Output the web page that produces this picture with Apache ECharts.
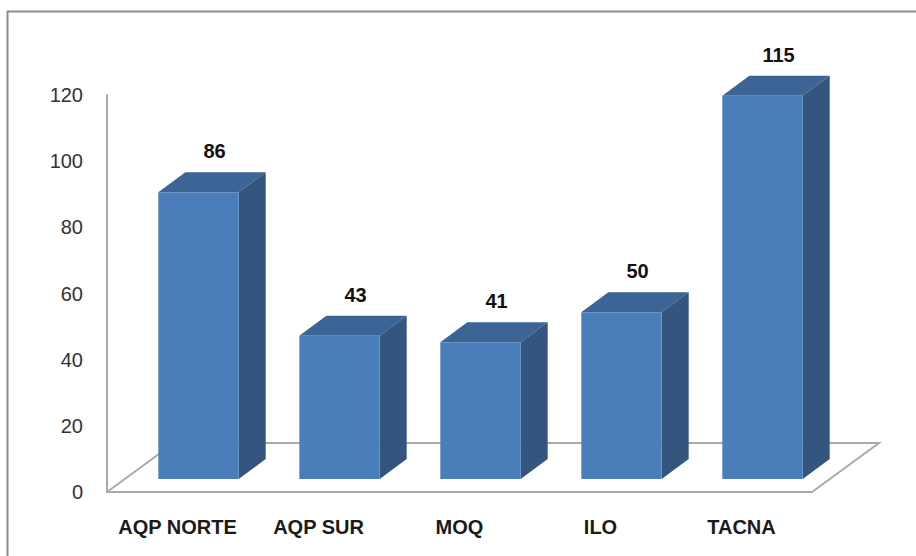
<!DOCTYPE html>
<html>
<head>
<meta charset="utf-8">
<script src="https://cdn.jsdelivr.net/npm/echarts@6/dist/echarts.min.js"></script>
<style>
  html, body { margin: 0; padding: 0; background: #fff; }
  #chart { width: 916px; height: 556px; }
</style>
</head>
<body>
<div id="chart"></div>
<script>
// categories and values
const categories = ["AQP NORTE", "AQP SUR", "MOQ", "ILO", "TACNA"];
const values = [86, 43, 41, 50, 115];
const yMax = 120;
const yStep = 20;

// 3d look
const BAR_DX = 27, BAR_DY = -20;
const FLOOR_DX = 67, FLOOR_DY = -49;
const FRONT = "#4a7ebb", TOP = "#3c6494", SIDE = "#33557e";
const LINE = "#a9a9a9";
const FONT = "'Liberation Sans', Arial, sans-serif";

const chart = echarts.init(document.getElementById("chart"), null, { renderer: "svg" });

function renderFloor(params, api) {
  const size = api.size([1, 0])[0];
  const a = api.coord([0, 0]);
  const b = api.coord([categories.length - 1, 0]);
  const left = a[0] - size / 2, right = b[0] + size / 2, y = a[1];
  return {
    type: "polyline",
    shape: { points: [[left, y], [left + FLOOR_DX, y + FLOOR_DY], [right + FLOOR_DX, y + FLOOR_DY], [right, y]] },
    style: { stroke: LINE, lineWidth: 2, fill: null },
  };
}

function renderBar(params, api) {
  const i = api.value(0), v = api.value(1);
  const top = api.coord([i, v]);
  const base = api.coord([i, 0]);
  const w = api.size([1, 0])[0] * 0.57;
  const x0 = top[0] - w / 2, x1 = top[0] + w / 2;
  const y0 = top[1], y1 = base[1];
  return {
    type: "group",
    children: [
      { type: "polygon", shape: { points: [[x0, y0], [x1, y0], [x1 + BAR_DX, y0 + BAR_DY], [x0 + BAR_DX, y0 + BAR_DY]] }, style: { fill: TOP } },
      { type: "polygon", shape: { points: [[x1, y0], [x1 + BAR_DX, y0 + BAR_DY], [x1 + BAR_DX, y1 + BAR_DY], [x1, y1]] }, style: { fill: SIDE } },
      { type: "rect", shape: { x: x0, y: y0, width: w, height: y1 - y0 }, style: { fill: FRONT } },
      {
        type: "text", x: top[0] + 16, y: y0 + BAR_DY - 21,
        style: { text: String(v), fill: "#111", font: "bold 20px " + FONT, align: "center", verticalAlign: "middle" },
      },
    ],
  };
}

chart.setOption({
  backgroundColor: "#fff",
  animation: false,
  graphic: [{
    type: "rect", left: 5, top: 9, shape: { width: 1000, height: 700 },
    style: { fill: null, stroke: "#8c8c8c", lineWidth: 2 }, silent: true,
  }],
  grid: [
    { left: 107, right: 104, top: 95, bottom: 64 },   // visible axes, front floor plane
    { left: 128, right: 83, top: 79, bottom: 77 },    // bar plane
  ],
  xAxis: [
    {
      type: "category", gridIndex: 0, data: categories,
      axisLine: { lineStyle: { color: LINE, width: 2 } },
      axisTick: { show: false },
      axisLabel: { interval: 0, color: "#1a1a1a", fontWeight: "bold", fontSize: 20, fontFamily: FONT, margin: 25 },
    },
    { type: "category", gridIndex: 1, data: categories, show: false },
  ],
  yAxis: [
    {
      type: "value", gridIndex: 0, min: 0, max: yMax, interval: yStep,
      axisLine: { show: true, lineStyle: { color: LINE, width: 2 } },
      axisTick: { show: false },
      splitLine: { show: false },
      axisLabel: { color: "#333", fontSize: 20, fontFamily: FONT, margin: 24 },
    },
    { type: "value", gridIndex: 1, min: 0, max: yMax, show: false, splitLine: { show: false } },
  ],
  series: [
    {
      type: "custom", xAxisIndex: 0, yAxisIndex: 0, data: [[0, 0]],
      renderItem: renderFloor, clip: false, silent: true, z: 1,
    },
    {
      type: "custom", xAxisIndex: 1, yAxisIndex: 1,
      data: values.map((v, i) => [i, v]),
      renderItem: renderBar, clip: false, z: 3,
    },
  ],
});
</script>
</body>
</html>
